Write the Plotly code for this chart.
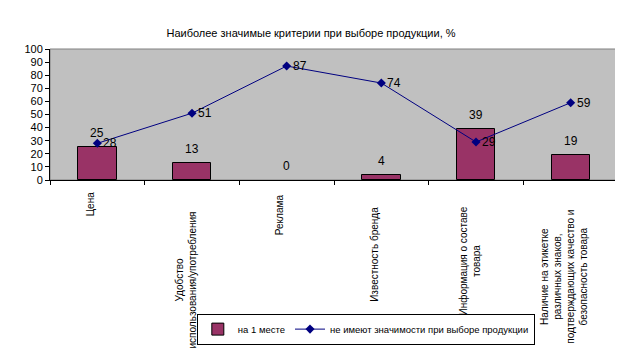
import plotly.graph_objects as go

categories = [
    "Цена",
    "Удобство<br>использования/употребления",
    "Реклама",
    "Известность бренда",
    "Информация о составе<br>товара",
    "Наличие на этикетке<br>различных знаков,<br>подтверждающих качество и<br>безопасность товара",
]
first_place = [25, 13, 0, 4, 39, 19]
no_importance = [28, 51, 87, 74, 29, 59]
series_names = ["на 1 месте", "не имеют значимости при выборе продукции"]
title_text = "Наиболее значимые критерии при выборе продукции, %"
y_ticks = list(range(0, 101, 10))

FONT = "Liberation Sans, Arial, sans-serif"

# label top offsets below the axis (px), layout only
label_drop = [10, 30, 12, 25, 25, 28]

fig = go.Figure()
fig.add_trace(go.Bar(
    x=categories, y=first_place, name=series_names[0],
    marker=dict(color="#993366",
                line=dict(color="black", width=[1 if v > 0 else 0 for v in first_place])),
    width=0.405,
))
fig.add_trace(go.Scatter(
    x=categories, y=no_importance, name=series_names[1],
    mode="lines+markers",
    line=dict(color="#000080", width=1),
    marker=dict(symbol="diamond", size=7, color="#000080"),
))

annotations = []
for c, v in zip(categories, first_place):
    annotations.append(dict(x=c, y=v, xref="x", yref="y", text=str(v), showarrow=False,
                            xanchor="center", yanchor="bottom", yshift=5,
                            font=dict(family=FONT, size=12, color="black")))
for c, v in zip(categories, no_importance):
    annotations.append(dict(x=c, y=v, xref="x", yref="y", text=str(v), showarrow=False,
                            xanchor="left", yanchor="middle", xshift=4,
                            font=dict(family=FONT, size=12, color="black")))
for c, d in zip(categories, label_drop):
    annotations.append(dict(x=c, y=0, xref="x", yref="paper", text=c, showarrow=False,
                            textangle=-90, xanchor="center", yanchor="top", yshift=-d,
                            xshift=-7, align="center",
                            font=dict(family=FONT, size=10, color="black")))

fig.update_layout(
    width=623, height=349,
    margin=dict(l=42, r=13, t=41, b=166),
    paper_bgcolor="white", plot_bgcolor="#C0C0C0",
    title=dict(text=title_text, x=303/623, xanchor="center", xref="container",
               y=1-25/349, yanchor="middle", yref="container",
               font=dict(family=FONT, size=11, color="black")),
    showlegend=True,
    legend=dict(orientation="h", x=0.2585, xanchor="left", y=-1.02, yanchor="top",
                bordercolor="black", borderwidth=1, bgcolor="white",
                font=dict(family=FONT, size=9.5, color="black"),
                itemwidth=30, tracegroupgap=0),
    annotations=annotations,
    bargap=0,
    shapes=[dict(type="rect", xref="paper", yref="paper", x0=0, x1=1, y0=0, y1=1,
                 line=dict(color="#808080", width=1), layer="below")],
)
fig.update_xaxes(type="category", showticklabels=False, ticks="outside", ticklen=4,
                 tickcolor="black", tickson="boundaries", showline=True, linecolor="black",
                 linewidth=1, showgrid=False, zeroline=False)
fig.update_yaxes(range=[0, 100], tickvals=y_ticks, ticks="outside", ticklen=4,
                 tickcolor="black", showline=True, linecolor="black", linewidth=1,
                 showgrid=False, zeroline=False,
                 tickfont=dict(family=FONT, size=11, color="black"))

fig.write_html("out.html")
